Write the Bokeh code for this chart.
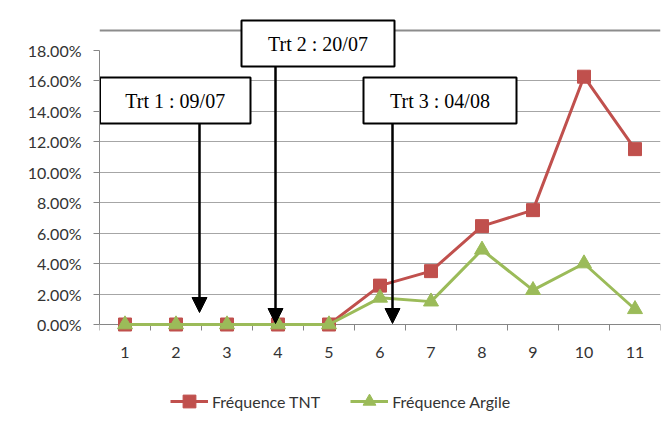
from bokeh.plotting import figure
from bokeh.layouts import column
from bokeh.models import (Range1d, FixedTicker, PrintfTickFormatter, Legend, LegendItem,
                          Arrow, NormalHead, ColumnDataSource)
from bokeh.core.properties import value
from bokeh.embed import file_html
from bokeh.resources import INLINE

# ---- data ----
categories = [1, 2, 3, 4, 5, 6, 7, 8, 9, 10, 11]
freq_tnt = [0, 0, 0, 0, 0, 2.55, 3.5, 6.45, 7.5, 16.25, 11.5]
freq_argile = [0, 0, 0, 0, 0, 1.75, 1.5, 4.9, 2.25, 4.0, 1.0]
y_ticks = [0, 2, 4, 6, 8, 10, 12, 14, 16, 18]
treatments = ["Trt 1 : 09/07", "Trt 2 : 20/07", "Trt 3 : 04/08"]
series_names = ["Fréquence TNT", "Fréquence Argile"]

# ---- geometry helpers (page pixel -> data) ----
PX_PER_CAT = 51.0
PX_PER_PCT = 15.25
X0_PAGE = 99.0       # page x of frame left (x = 0.5)
ZERO_PAGE = 324.0    # page y of y = 0
FRAME_TOP_PAGE = 16.0
FRAME_BOT_PAGE = 334.0


def dx(px):
    return 0.5 + (px - X0_PAGE) / PX_PER_CAT


def dy(py):
    return (ZERO_PAGE - py) / PX_PER_PCT


W, H1, H2 = 668, 380, 42
p = figure(width=W, height=H1, output_backend="svg", toolbar_location=None,
           x_range=Range1d(0.5, 11.5), y_range=Range1d(dy(FRAME_BOT_PAGE), dy(FRAME_TOP_PAGE)),
           min_border_left=int(X0_PAGE), min_border_right=W - 660,
           min_border_top=int(FRAME_TOP_PAGE), min_border_bottom=H1 - int(FRAME_BOT_PAGE))
p.outline_line_color = None
p.background_fill_color = "white"
p.border_fill_color = "white"

# grid
p.xgrid.visible = False
p.ygrid.ticker = FixedTicker(ticks=y_ticks[1:-1])
p.ygrid.grid_line_color = "#A6A6A6"
p.ygrid.grid_line_width = 1

AX = "#868686"
# y axis
p.yaxis.ticker = FixedTicker(ticks=y_ticks)
p.yaxis.bounds = (0, 18)
p.yaxis.formatter = PrintfTickFormatter(format="%.2f%%")
p.yaxis.major_tick_in = 0
p.yaxis.major_tick_out = 6
p.yaxis.minor_tick_line_color = None
p.yaxis.axis_line_color = AX
p.yaxis.major_tick_line_color = AX
p.yaxis.major_label_text_font = "Lato"
p.yaxis.major_label_text_font_size = "16px"
p.yaxis.major_label_text_color = "#333333"
p.yaxis.major_label_standoff = 12

# x axis: labels from the library axis; its baseline + boundary ticks drawn at y = 0
p.xaxis.ticker = FixedTicker(ticks=categories)
p.xaxis.major_tick_in = 0
p.xaxis.major_tick_out = 0
p.xaxis.minor_tick_in = 0
p.xaxis.minor_tick_out = 0
p.xaxis.major_tick_line_color = None
p.xaxis.minor_tick_line_color = None
p.xaxis.axis_line_color = None
p.xaxis.major_label_text_font = "Lato"
p.xaxis.major_label_text_font_size = "16px"
p.xaxis.major_label_text_color = "#333333"
p.xaxis.major_label_standoff = 12

bounds_x = [c - 0.5 for c in categories] + [categories[-1] + 0.5]
p.segment(x0=bounds_x, y0=[0] * len(bounds_x), x1=bounds_x, y1=[dy(ZERO_PAGE + 6)] * len(bounds_x),
          line_color=AX, line_width=1)
p.segment(x0=[bounds_x[0]], y0=[0], x1=[bounds_x[-1]], y1=[0], line_color=AX, line_width=1)

# chart border line at top
p.segment(x0=[0.5], y0=[dy(30)], x1=[11.5], y1=[dy(30)], line_color="#8C8C8C", line_width=2)

# series
src = ColumnDataSource(dict(x=categories, tnt=freq_tnt, arg=freq_argile))
RED = "#C0504D"
GREEN = "#9BBB59"
p.line("x", "tnt", source=src, line_color=RED, line_width=3)
p.scatter("x", "tnt", source=src, marker="square", size=13, fill_color=RED, line_color=RED)
p.line("x", "arg", source=src, line_color=GREEN, line_width=3)
p.scatter("x", "arg", source=src, marker="triangle", size=15, fill_color=GREEN, line_color=GREEN)

# annotation boxes (page px: left, right, top, bottom) and arrows (page px: x, y_start, y_end)
boxes = [(99.5, 250, 77, 123), (241, 394, 20, 66), (363, 516, 77, 123)]
arrows = [(199, 123, 312), (275, 66, 323), (392, 123, 323)]
p.quad(left=[dx(b[0]) for b in boxes], right=[dx(b[1]) for b in boxes],
       top=[dy(b[2]) for b in boxes], bottom=[dy(b[3]) for b in boxes],
       fill_color="white", line_color="black", line_width=2)
p.text(x=[dx((b[0] + b[1]) / 2) for b in boxes], y=[dy((b[2] + b[3]) / 2) for b in boxes],
       text=treatments, text_font=value("Liberation Serif"), text_font_size="20px",
       text_align="center", text_baseline="middle", text_color="black")
for ax_, ys, ye in arrows:
    p.add_layout(Arrow(end=NormalHead(size=15, fill_color="black", line_color="black"),
                       x_start=dx(ax_), y_start=dy(ys), x_end=dx(ax_), y_end=dy(ye),
                       line_color="black", line_width=2.5))

# ---- legend strip (its own small figure under the chart; same series, out of view) ----
q = figure(width=W, height=H2, output_backend="svg", toolbar_location=None,
           x_range=Range1d(-100, -99), y_range=Range1d(-100, -99), x_axis_type=None, y_axis_type=None,
           min_border=0)
q.outline_line_color = None
q.grid.visible = False
ql1 = q.line("x", "tnt", source=src, line_color=RED, line_width=3)
qs1 = q.scatter("x", "tnt", source=src, marker="square", size=13, fill_color=RED, line_color=RED)
ql2 = q.line("x", "arg", source=src, line_color=GREEN, line_width=3)
qs2 = q.scatter("x", "arg", source=src, marker="triangle", size=15, fill_color=GREEN, line_color=GREEN)
legend = Legend(items=[LegendItem(label=series_names[0], renderers=[ql1, qs1]),
                       LegendItem(label=series_names[1], renderers=[ql2, qs2])],
                orientation="horizontal", location=(170 - int(X0_PAGE), 5),
                label_text_font="Lato", label_text_font_size="16px", label_text_color="#333333",
                glyph_width=38, glyph_height=32, spacing=30, padding=0, margin=0,
                label_standoff=4, border_line_color=None, background_fill_alpha=0)
q.add_layout(legend)

open("out.html", "w").write(file_html(column(p, q, spacing=0), INLINE))
